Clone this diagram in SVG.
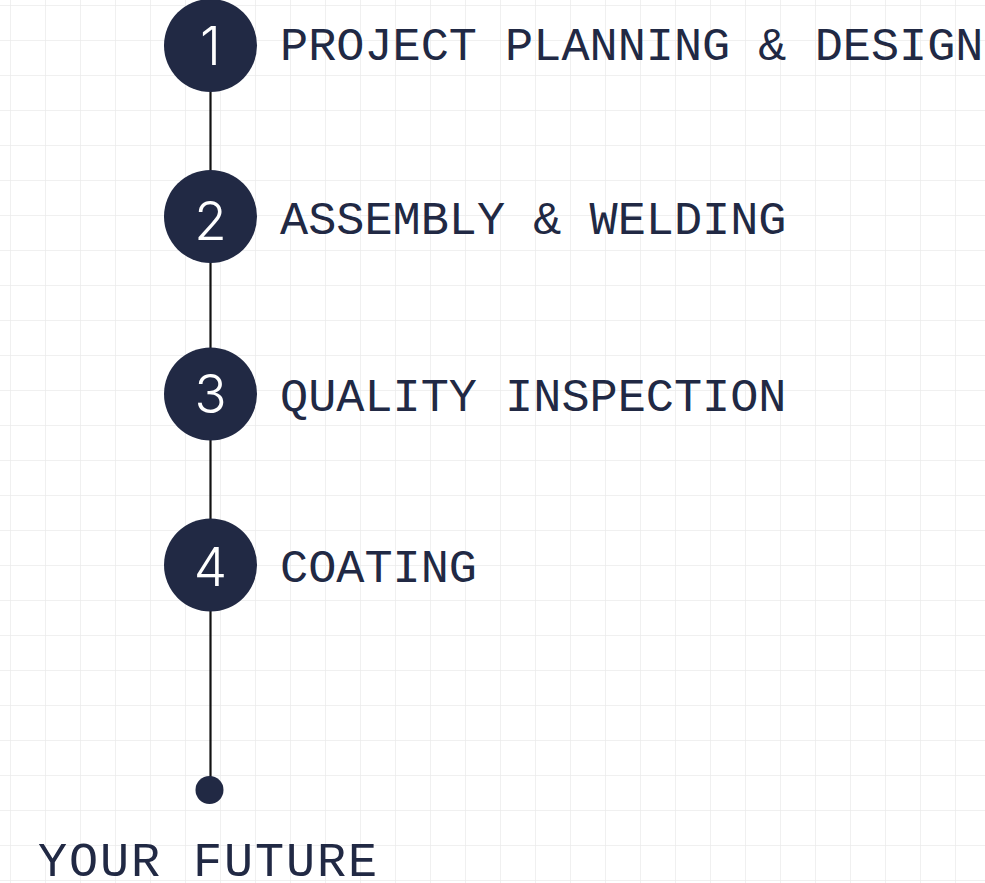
<svg xmlns="http://www.w3.org/2000/svg" width="985" height="883" viewBox="0 0 985 883">
  <defs>
    <pattern id="grid" x="10" y="5" width="35" height="35" patternUnits="userSpaceOnUse">
      <path d="M0 0V35M0 0H35" fill="none" stroke="#ebebeb" stroke-width="1.5"/>
    </pattern>
    <style>
      .dot{fill:#212944}
      .num{fill:#ffffff;font-family:Inter,"Liberation Sans",sans-serif;font-weight:300;font-size:53px;text-anchor:middle}
      .lbl{fill:#212944;font-family:"Liberation Mono","DejaVu Sans Mono",monospace;font-size:46.9px}
      .conn{stroke:#111111;stroke-width:2.2;fill:none}
    </style>
  </defs>
  <rect width="985" height="883" fill="#ffffff"/>
  <rect width="985" height="883" fill="url(#grid)"/>
  <g id="connectors">
    <line class="conn" x1="210.5" y1="46" x2="210.5" y2="790"/>
  </g>
  <g id="step1">
    <circle class="dot" cx="210.5" cy="45.5" r="46.5"/>
    <text class="num" x="210.5" y="65">1</text>
    <text class="lbl" x="280" y="60">PROJECT PLANNING &amp; DESIGN</text>
  </g>
  <g id="step2">
    <circle class="dot" cx="210.5" cy="216.5" r="46.5"/>
    <text class="num" x="210.5" y="240">2</text>
    <text class="lbl" x="280" y="234">ASSEMBLY &amp; WELDING</text>
  </g>
  <g id="step3">
    <circle class="dot" cx="210.5" cy="394" r="46.5"/>
    <text class="num" x="210.5" y="413">3</text>
    <text class="lbl" x="280" y="411">QUALITY INSPECTION</text>
  </g>
  <g id="step4">
    <circle class="dot" cx="210.5" cy="565" r="46.5"/>
    <text class="num" x="210.5" y="586">4</text>
    <text class="lbl" x="280" y="582">COATING</text>
  </g>
  <g id="end">
    <circle class="dot" cx="209.5" cy="790" r="14"/>
    <text class="lbl" x="38" y="876" style="font-size:48.5px;letter-spacing:1.9px">YOUR FUTURE</text>
  </g>
</svg>
